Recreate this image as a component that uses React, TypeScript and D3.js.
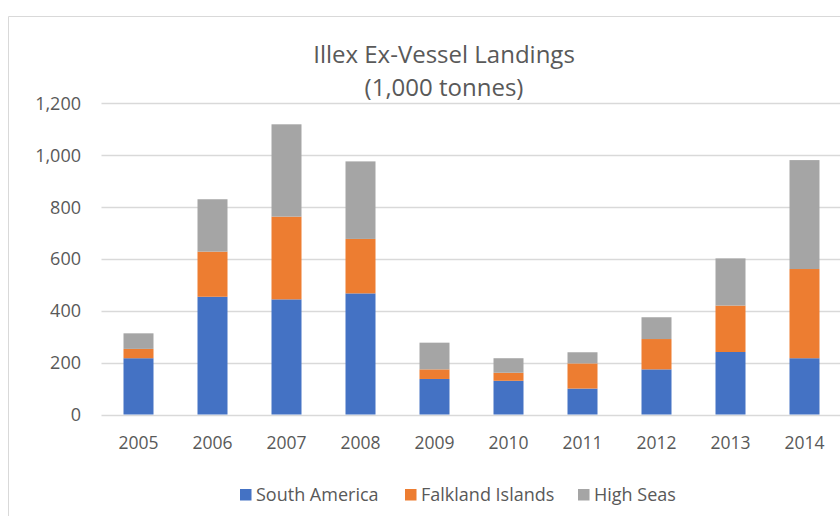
import React from "react";
import * as d3 from "d3";

const years = ["2005", "2006", "2007", "2008", "2009", "2010", "2011", "2012", "2013", "2014"];
const southAmerica = [217, 454, 444, 467, 137, 130, 100, 174, 241, 217];
const falklandIslands = [36, 174, 319, 210, 37, 31, 97, 117, 179, 344];
const highSeas = [60, 202, 356, 299, 103, 56, 43, 84, 182, 420];
const seriesNames = ["South America", "Falkland Islands", "High Seas"];
const seriesColors = ["#4472C4", "#ED7D31", "#A5A5A5"];
const yTicks = [0, 200, 400, 600, 800, 1000, 1200];

const W = 840;
const H = 516;
const FONT = "'Open Sans', sans-serif";
const TEXT = "#595959";

export default function App() {
  const rows = years.map((y, i) => ({
    year: y,
    "South America": southAmerica[i],
    "Falkland Islands": falklandIslands[i],
    "High Seas": highSeas[i],
  }));
  const stacked = d3.stack<any>().keys(seriesNames)(rows);

  const x = d3
    .scaleBand<string>()
    .domain(years)
    .range([101.5, 841.5])
    .paddingInner(44 / 74)
    .paddingOuter(22 / 74);
  const y = d3.scaleLinear().domain([0, 1200]).range([414.5, 103.3]);
  const fmt = d3.format(",");

  const legendX = [240, 405, 578];

  return (
    <svg
      width={W}
      height={H}
      style={{ position: "absolute", left: 0, top: 0, display: "block" }}
      fontFamily={FONT}
    >
      <rect x={0} y={0} width={W} height={H} fill="#ffffff" />
      {/* chart frame */}
      <line x1={8.5} x2={W} y1={16.5} y2={16.5} stroke="#D9D9D9" strokeWidth={1} />
      <line x1={8.5} x2={8.5} y1={16.5} y2={H} stroke="#D9D9D9" strokeWidth={1} />

      <text x={444} y={63} textAnchor="middle" fontSize={24} fill={TEXT}>
        Illex Ex-Vessel Landings
      </text>
      <text x={444} y={96} textAnchor="middle" fontSize={24} fill={TEXT}>
        (1,000 tonnes)
      </text>

      {yTicks.map((t) => (
        <g key={t}>
          <line
            x1={101.5}
            x2={W}
            y1={Math.round(y(t)) + 0.5}
            y2={Math.round(y(t)) + 0.5}
            stroke="#D9D9D9"
            strokeWidth={1.3}
          />
          <text x={81} y={y(t)} dy="0.36em" textAnchor="end" fontSize={18} fill={TEXT}>
            {fmt(t)}
          </text>
        </g>
      ))}

      {stacked.map((s, si) => (
        <g key={s.key} fill={seriesColors[si]}>
          {s.map((d, i) => (
            <rect
              key={years[i]}
              x={x(years[i])}
              y={y(d[1])}
              width={x.bandwidth()}
              height={y(d[0]) - y(d[1])}
            />
          ))}
        </g>
      ))}

      {years.map((yr) => (
        <text
          key={yr}
          x={(x(yr) as number) + x.bandwidth() / 2}
          y={449}
          textAnchor="middle"
          fontSize={17.5}
          fill={TEXT}
        >
          {yr}
        </text>
      ))}

      {seriesNames.map((name, i) => (
        <g key={name}>
          <rect x={legendX[i]} y={489} width={11.5} height={11.5} fill={seriesColors[i]} />
          <text x={legendX[i] + 16} y={500.5} fontSize={18} fill={TEXT}>
            {name}
          </text>
        </g>
      ))}
    </svg>
  );
}
